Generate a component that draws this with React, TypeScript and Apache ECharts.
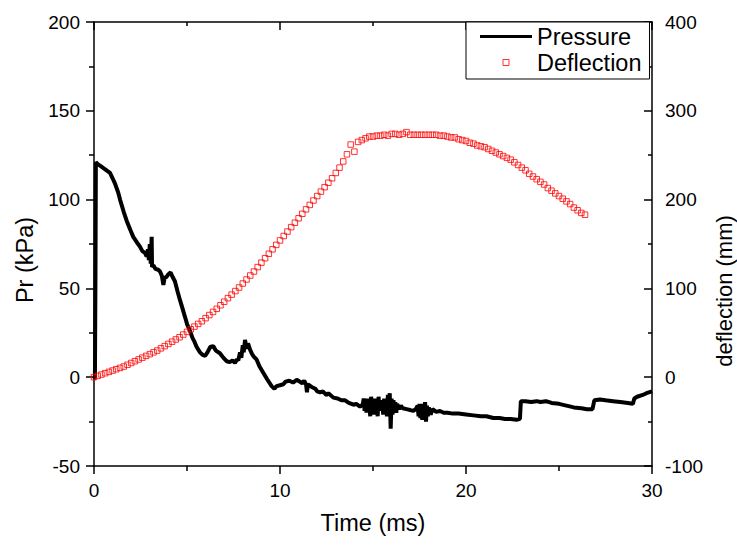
import React, { useEffect, useRef } from "react";
import * as echarts from "echarts";

// Pressure trace (time in ms, pressure in kPa)
const pressure: [number, number][] = [
  [0, -1], [0.05, 0], [0.08, 60], [0.1, 121], [0.2, 120], [0.4, 118.5], [0.6, 117], [0.86, 115],
  [1.0, 112], [1.13, 109], [1.3, 104], [1.4, 100], [1.6, 93], [1.76, 88], [1.95, 83], [2.11, 79],
  [2.3, 76], [2.47, 73.5], [2.6, 71], [2.74, 70], [2.83, 68], [2.9, 72], [2.95, 66], [3.0, 75],
  [3.05, 64], [3.1, 79], [3.12, 62], [3.19, 63], [3.3, 61], [3.45, 60.5], [3.55, 59.5], [3.65, 57],
  [3.73, 52], [3.8, 56], [3.9, 56.5], [4.0, 58], [4.12, 59], [4.2, 57], [4.35, 54], [4.5, 48],
  [4.62, 43.5], [4.75, 39], [4.89, 34], [5.0, 30], [5.16, 26], [5.3, 22], [5.4, 20], [5.52, 17],
  [5.7, 14], [5.85, 12.5], [5.97, 12], [6.1, 14], [6.25, 17], [6.41, 17.5], [6.55, 15], [6.77, 13.5],
  [6.95, 11], [7.13, 9], [7.3, 8.5], [7.45, 9.5], [7.58, 8], [7.68, 10], [7.76, 9.5], [7.85, 14],
  [7.92, 11], [8.0, 18], [8.05, 14], [8.12, 21], [8.2, 16], [8.28, 19], [8.39, 15.5], [8.5, 13],
  [8.6, 11.5], [8.74, 10], [8.9, 6], [9.1, 2.5], [9.3, -1], [9.55, -5], [9.7, -6.5], [9.82, -5],
  [10.0, -4.5], [10.18, -4], [10.3, -2.5], [10.5, -2], [10.7, -3], [10.9, -1.5], [11.07, -2.5],
  [11.2, -3.5], [11.3, -2], [11.4, -4], [11.45, -8.5], [11.5, -4], [11.7, -5.5], [11.9, -6.5],
  [12.0, -8], [12.15, -8.5], [12.3, -8], [12.5, -10], [12.6, -9], [12.87, -11.5], [13.1, -12],
  [13.3, -13], [13.5, -13], [13.7, -14.5], [13.95, -15.5], [14.1, -15], [14.3, -16.5], [14.45, -15.5],
  [14.5, -12], [14.55, -19], [14.6, -13], [14.65, -20], [14.7, -12], [14.75, -18], [14.8, -14],
  [14.85, -22], [14.9, -11], [14.95, -19], [15.0, -13], [15.05, -21], [15.1, -12], [15.15, -20],
  [15.2, -14], [15.25, -22], [15.3, -11], [15.35, -19], [15.4, -13], [15.45, -18], [15.5, -15],
  [15.55, -21], [15.6, -12], [15.65, -20], [15.7, -13], [15.75, -22], [15.8, -10], [15.85, -20],
  [15.9, -9], [15.95, -29], [16.0, -12], [16.05, -21], [16.1, -13], [16.15, -19], [16.2, -14],
  [16.25, -20], [16.3, -15], [16.4, -18], [16.5, -16], [16.6, -17.5], [16.8, -18], [17.0, -18.5],
  [17.17, -19], [17.3, -18], [17.4, -16], [17.45, -22], [17.5, -15], [17.55, -23], [17.6, -16],
  [17.65, -24], [17.7, -15], [17.75, -22], [17.8, -14], [17.85, -25], [17.9, -16], [17.95, -22],
  [18.0, -17], [18.1, -21], [18.2, -18], [18.4, -19.5], [18.6, -19], [18.8, -20], [19.0, -20],
  [19.3, -20.5], [19.6, -20.5], [20.0, -21], [20.4, -21.5], [20.8, -22], [21.1, -22], [21.47, -23],
  [21.8, -23], [22.1, -23.5], [22.4, -23.5], [22.72, -24], [22.9, -23.5], [22.95, -13.5],
  [23.2, -13.5], [23.5, -14], [23.8, -13.5], [24.0, -14], [24.3, -13.5], [24.6, -14.5], [25.0, -15],
  [25.4, -16], [25.8, -17], [26.2, -17.5], [26.5, -18], [26.8, -18], [26.9, -13], [27.2, -12.5],
  [27.5, -13], [27.9, -13.5], [28.3, -14], [28.7, -14.5], [28.97, -15], [29.05, -12], [29.2, -11],
  [29.5, -10], [29.7, -9], [30.0, -8],
];

// Deflection (time in ms, deflection in mm)
const deflection: [number, number][] = [
  [0, 0], [0.2, 1.5], [0.4, 3], [0.6, 4.5], [0.8, 6], [1.0, 7.5], [1.2, 9], [1.4, 10.5], [1.6, 12],
  [1.8, 14], [2.0, 16], [2.2, 18], [2.4, 20], [2.6, 22], [2.8, 24], [3.0, 26], [3.2, 28], [3.4, 30],
  [3.6, 32.5], [3.8, 35], [4.0, 37.5], [4.2, 40], [4.4, 42.5], [4.6, 45], [4.8, 48], [5.0, 51],
  [5.2, 54], [5.4, 57], [5.6, 60], [5.8, 63], [6.0, 66.5], [6.2, 70], [6.4, 73.5], [6.6, 77],
  [6.8, 81], [7.0, 85], [7.2, 89], [7.4, 93], [7.6, 97], [7.8, 101], [8.0, 105.5], [8.2, 110],
  [8.4, 114.5], [8.6, 119], [8.8, 124], [9.0, 129], [9.2, 134], [9.4, 139], [9.6, 144], [9.8, 149],
  [10.0, 154], [10.2, 159], [10.4, 164], [10.6, 169], [10.8, 174], [11.0, 179], [11.2, 184],
  [11.4, 189], [11.6, 194], [11.8, 199], [12.0, 204], [12.2, 209], [12.4, 214], [12.6, 219],
  [12.8, 224], [13.0, 230], [13.2, 236], [13.4, 243], [13.6, 251], [13.8, 262], [14.0, 254],
  [14.2, 265], [14.4, 267], [14.6, 269], [14.8, 271], [15.0, 271], [15.2, 272], [15.4, 272],
  [15.6, 273], [15.8, 272], [16.0, 274], [16.2, 274], [16.4, 273], [16.6, 274], [16.8, 276],
  [17.0, 273], [17.2, 273], [17.4, 273], [17.6, 273], [17.8, 273], [18.0, 273], [18.2, 273],
  [18.4, 273], [18.6, 272], [18.8, 272], [19.0, 271], [19.2, 270], [19.4, 270], [19.6, 268],
  [19.8, 267], [20.0, 266], [20.2, 264], [20.4, 263], [20.6, 261], [20.8, 260], [21.0, 259],
  [21.2, 257], [21.4, 255], [21.6, 253], [21.8, 251], [22.0, 249], [22.2, 247], [22.4, 245],
  [22.6, 242], [22.8, 239], [23.0, 236], [23.2, 233], [23.4, 229], [23.6, 226], [23.8, 223],
  [24.0, 220], [24.2, 217], [24.4, 213], [24.6, 210], [24.8, 207], [25.0, 204], [25.2, 201],
  [25.4, 198], [25.6, 195], [25.8, 191], [26.0, 188], [26.2, 185], [26.4, 183],
];

const seriesNames = ["Pressure", "Deflection"];
const xTitle = "Time (ms)";
const yLeftTitle = "Pr (kPa)";
const yRightTitle = "deflection (mm)";

const FONT = "'Liberation Sans', Arial, sans-serif";
const AX = { color: "#000", width: 1.5 };
const W = 737;
const H = 549;

export default function App() {
  const ref = useRef<HTMLDivElement>(null);
  useEffect(() => {
    if (!ref.current) return;
    const chart = echarts.init(ref.current, undefined, { renderer: "svg", width: W, height: H });
    const baseX = {
      type: "value",
      min: 0,
      max: 30,
      interval: 10,
      splitLine: { show: false },
      axisLine: { show: true, onZero: false, lineStyle: AX },
      minorTick: { show: true, splitNumber: 2, length: 5, lineStyle: AX },
    };
    const titleStyle = { fontSize: 23.5, color: "#000", fontFamily: FONT };
    chart.setOption({
      animation: false,
      backgroundColor: "#fff",
      textStyle: { fontFamily: FONT, color: "#000" },
      grid: {
        left: 94,
        right: 85,
        top: 22,
        bottom: 83,
        containLabel: false,
        outerBoundsMode: "none",
      },
      legend: {
        orient: "vertical",
        left: 466,
        top: 22,
        padding: [2, 8, 4, 14],
        itemWidth: 52,
        itemHeight: 6,
        itemGap: 1,
        borderColor: "#000",
        borderWidth: 1,
        backgroundColor: "#fff",
        textStyle: { fontSize: 23.5, lineHeight: 25, color: "#000", fontFamily: FONT },
        data: [
          {
            name: seriesNames[0],
            icon: "path://M0,0L52,0L52,3L0,3Z",
            itemStyle: { color: "#000", borderWidth: 0 },
          },
          {
            name: seriesNames[1],
            icon: "path://M0,0L10,0L10,10L0,10Z",
            itemStyle: { color: "rgba(0,0,0,0)", borderColor: "#ff0000", borderWidth: 1 },
          },
        ],
      },
      xAxis: [
        {
          ...baseX,
          position: "bottom",
          axisTick: { show: true, inside: false, length: 8, lineStyle: AX },
          axisLabel: { fontSize: 19, color: "#000", margin: 15, fontFamily: FONT },
          name: xTitle,
          nameLocation: "middle",
          nameGap: 45,
          nameTextStyle: titleStyle,
        },
        {
          ...baseX,
          position: "top",
          axisTick: { show: true, inside: true, length: 8, lineStyle: AX },
          minorTick: { show: true, splitNumber: 2, length: 4, lineStyle: AX },
          axisLabel: { show: false },
        },
      ],
      yAxis: [
        {
          type: "value",
          min: -50,
          max: 200,
          interval: 50,
          position: "left",
          splitLine: { show: false },
          axisLine: { show: true, onZero: false, lineStyle: AX },
          axisTick: { show: true, inside: false, length: 8, lineStyle: AX },
          minorTick: { show: true, splitNumber: 2, length: 5, lineStyle: AX },
          axisLabel: { fontSize: 19, color: "#000", margin: 14, fontFamily: FONT },
          name: yLeftTitle,
          nameLocation: "middle",
          nameGap: 49,
          nameRotate: 90,
          nameTextStyle: { ...titleStyle, padding: [0, 32, 0, 0] },
        },
        {
          type: "value",
          min: -100,
          max: 400,
          interval: 100,
          position: "right",
          splitLine: { show: false },
          axisLine: { show: true, onZero: false, lineStyle: AX },
          axisTick: { show: true, inside: true, length: 8, lineStyle: AX },
          minorTick: { show: true, splitNumber: 2, length: 4, lineStyle: AX },
          axisLabel: { fontSize: 19, color: "#000", margin: 13, fontFamily: FONT },
          name: yRightTitle,
          nameLocation: "middle",
          nameGap: 59,
          nameRotate: 90,
          nameTextStyle: { ...titleStyle, fontSize: 22, padding: [0, 94, 0, 0] },
        },
      ],
      series: [
        {
          name: seriesNames[0],
          type: "line",
          xAxisIndex: 0,
          yAxisIndex: 0,
          data: pressure,
          symbol: "none",
          lineStyle: { color: "#000", width: 4 },
          itemStyle: { color: "#000" },
          z: 2,
        },
        {
          name: seriesNames[1],
          type: "scatter",
          xAxisIndex: 0,
          yAxisIndex: 1,
          data: deflection,
          symbol: "rect",
          symbolSize: 5.5,
          itemStyle: { color: "rgba(0,0,0,0)", borderColor: "#ff0000", borderWidth: 1 },
          z: 3,
        },
      ],
    });
    return () => chart.dispose();
  }, []);
  return <div ref={ref} style={{ width: W, height: H, position: "absolute", left: 0, top: 0 }} />;
}
